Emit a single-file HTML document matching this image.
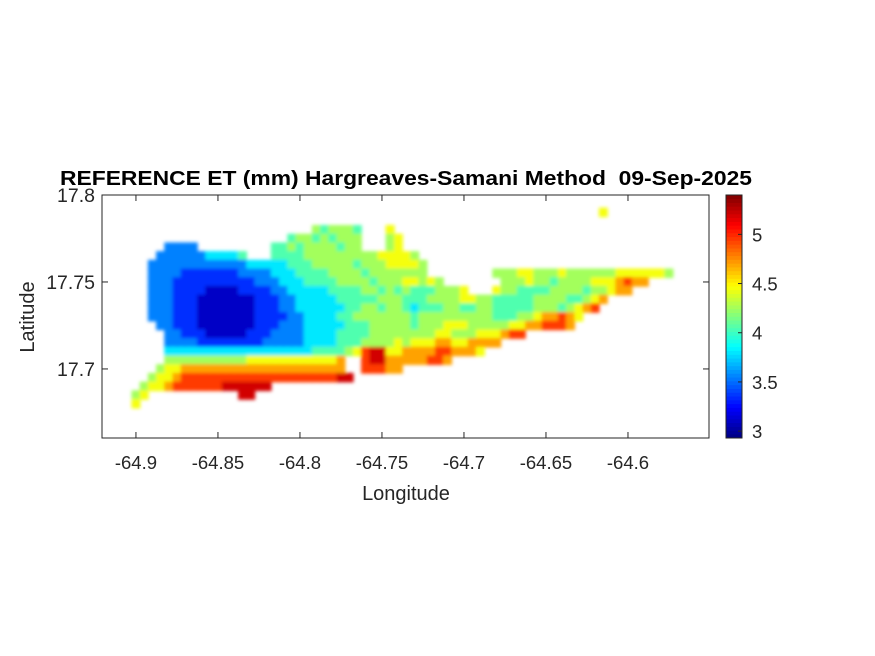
<!DOCTYPE html>
<html><head><meta charset="utf-8">
<style>
html,body{margin:0;padding:0;background:#fff;}
svg{display:block;font-family:"Liberation Sans",Arial,sans-serif;}
</style></head>
<body>
<svg id="chart" width="875" height="656" viewBox="0 0 875 656" xmlns="http://www.w3.org/2000/svg">
<defs>
<filter id="sm" filterUnits="userSpaceOnUse" x="0" y="0" width="875" height="656"><feGaussianBlur stdDeviation="1.8"/></filter>
<clipPath id="axclip"><rect x="102" y="195" width="607" height="243"/></clipPath>
</defs>
<rect x="0" y="0" width="875" height="656" fill="#fff"/>
<rect x="102" y="195" width="607" height="243" fill="#fff"/>
<g clip-path="url(#axclip)">
<g id="cells" filter="url(#sm)"></g>
</g>
<g id="axes"></g>
<g id="cbar"></g>
<text x="406" y="185" text-anchor="middle" font-size="20" font-weight="bold" fill="#000" textLength="692" lengthAdjust="spacingAndGlyphs">REFERENCE ET (mm) Hargreaves-Samani Method&#160; 09-Sep-2025</text>
<text x="406" y="500" text-anchor="middle" font-size="20" fill="#262626">Longitude</text>
<text transform="translate(34,317) rotate(-90)" text-anchor="middle" font-size="20" fill="#262626">Latitude</text>
</svg>
<script>
// grid: column c -> lon = lonStart + lonStep*c ; row r -> lat = latStart - latStep*r
const lonStart = -64.9, lonStep = 0.005;
const latStart = 17.79, latStep = 0.005;
// code digit k -> ET value codeValues[k] ; '.' = no data
const codeValues = [3.1, 3.35, 3.55, 3.8, 4.05, 4.25, 4.45, 4.7, 4.95, 5.2];
const rowStart = [57,0,22,19,4,3,2,2,2,2,2,2,2,3,4,4,4,4,3,2,1,0,0];
const rowCodes = [
"6",
"",
"545554...6",
"455454555...56",
"2222.........44545555455...56",
"22222233334...444455555555566665",
"2222222222223333344455555455566665",
"2222111111122223334444555545555555........5556655565555556666665",
"222111111111122233344445555455566565.......555655455556667877",
"222111100001111223333344445545454445556...65544445555455677",
"22211100000001112233333444445554445555665544444555544567",
"2221110000000111223333334455455434445544554444455545678",
"22211100000001111223333445555555455555555544455677876",
"221110000000111222333334445555545556665555566778887",
"22111000001112222333344445555555566555666788",
"22221111111122222333344455556566677667777",
"333333333333333333444456899667777887776",
"5555555555666666666667..89977777887",
"56677777777777777777777..88877",
"5667888888888888888888899",
"5667888888999999",
"56...........99",
"6"
];
const xTicks = [-64.9,-64.85,-64.8,-64.75,-64.7,-64.65,-64.6];
const xTickLabels = ["-64.9","-64.85","-64.8","-64.75","-64.7","-64.65","-64.6"];
const yTicks = [17.7,17.75,17.8];
const yTickLabels = ["17.7","17.75","17.8"];
const cTicks = [3,3.5,4,4.5,5];
const cTickLabels = ["3","3.5","4","4.5","5"];
const cMin = 2.93, cMax = 5.4;

const NS = "http://www.w3.org/2000/svg";
const X0 = 102, X1 = 709, Y0 = 195, Y1 = 438;
const lonMin = -64.9207, lonMax = -64.5506, latMin = 17.6603, latMax = 17.8;
function xs(lon){ return X0 + (lon - lonMin) / (lonMax - lonMin) * (X1 - X0); }
function ys(lat){ return Y1 - (lat - latMin) / (latMax - latMin) * (Y1 - Y0); }
function cl(v){ return Math.max(0, Math.min(1, v)); }
function jet(v){
  const t = cl((v - cMin) / (cMax - cMin));
  const r = cl(1.5 - Math.abs(4*t - 3)), g = cl(1.5 - Math.abs(4*t - 2)), b = cl(1.5 - Math.abs(4*t - 1));
  return "rgb(" + Math.round(r*255) + "," + Math.round(g*255) + "," + Math.round(b*255) + ")";
}
function mk(tag, attrs, parent){
  const e = document.createElementNS(NS, tag);
  for (const k in attrs) e.setAttribute(k, attrs[k]);
  parent.appendChild(e); return e;
}

// heatmap cells
const cells = document.getElementById("cells");
const cw = Math.abs(xs(lonStep) - xs(0)), ch = Math.abs(ys(latStart) - ys(latStart - latStep));
for (let r = 0; r < rowCodes.length; r++) {
  const s = rowCodes[r];
  for (let i = 0; i < s.length; i++) {
    if (s[i] === ".") continue;
    const v = codeValues[parseInt(s[i], 10)];
    const c = rowStart[r] + i;
    const cx = xs(lonStart + lonStep * c), cy = ys(latStart - latStep * r);
    const el = mk("rect", {x: (cx - cw/2 - 0.4).toFixed(2), y: (cy - ch/2 - 0.4).toFixed(2), width: (cw + 0.8).toFixed(2), height: (ch + 0.8).toFixed(2), fill: jet(v)}, cells);
    
    
  }
}

// axes
const ax = document.getElementById("axes");
const box = mk("rect", {x: X0, y: Y0, width: X1 - X0, height: Y1 - Y0, fill: "none", stroke: "#262626", "stroke-width": 1}, ax);


xTicks.forEach((t, i) => {
  const x = xs(t);
  mk("line", {x1: x, x2: x, y1: Y1, y2: Y1 - 6, stroke: "#262626"}, ax);
  mk("line", {x1: x, x2: x, y1: Y0, y2: Y0 + 6, stroke: "#262626"}, ax);
  const tx = mk("text", {x: x, y: Y1 + 31, "text-anchor": "middle", "font-size": 18.5, fill: "#262626"}, ax);
  tx.textContent = xTickLabels[i];
  
  
});
yTicks.forEach((t, i) => {
  const y = ys(t);
  mk("line", {x1: X0, x2: X0 + 6, y1: y, y2: y, stroke: "#262626"}, ax);
  mk("line", {x1: X1, x2: X1 - 6, y1: y, y2: y, stroke: "#262626"}, ax);
  const tx = mk("text", {x: X0 - 7, y: y + 7, "text-anchor": "end", "font-size": 19.5, fill: "#262626"}, ax);
  tx.textContent = yTickLabels[i];
  
  
});

// colorbar
const cb = document.getElementById("cbar");
const CX0 = 726, CX1 = 742;
function cy(v){ return Y1 - (v - cMin) / (cMax - cMin) * (Y1 - Y0); }
const N = 64;
for (let i = 0; i < N; i++) {
  const v0 = cMin + (cMax - cMin) * i / N, v1 = cMin + (cMax - cMin) * (i + 1) / N;
  const seg = mk("rect", {x: CX0, y: cy(v1) - 0.3, width: CX1 - CX0, height: cy(v0) - cy(v1) + 0.6, fill: jet((v0 + v1) / 2)}, cb);
  
  
}
mk("rect", {x: CX0, y: Y0, width: CX1 - CX0, height: Y1 - Y0, fill: "none", stroke: "#262626"}, cb);
cTicks.forEach((t, i) => {
  const y = cy(t);
  mk("line", {x1: CX1, x2: CX1 - 4, y1: y, y2: y, stroke: "#262626"}, cb);
  const tx = mk("text", {x: CX1 + 10, y: y + 7, "font-size": 18.5, fill: "#262626"}, cb);
  tx.textContent = cTickLabels[i];
  
  
});
</script>
</body></html>
